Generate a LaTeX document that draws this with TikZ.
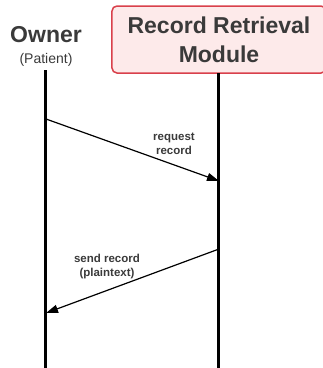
\documentclass[tikz,border=0pt]{standalone}
\usepackage{fontspec}
\setmainfont{Liberation Sans}
\usetikzlibrary{arrows.meta}
\definecolor{textgray}{HTML}{3A3A3A}
\definecolor{boxred}{HTML}{D9404B}
\definecolor{boxfill}{HTML}{FDEAEA}
\begin{document}
\begin{tikzpicture}[
            x=1pt, y=-1pt,
            ator/.style={text=textgray, font=\bfseries\fontsize{23}{29}\selectfont, align=center},
            subator/.style={text=textgray, font=\fontsize{14}{17}\selectfont},
            modulo/.style={shape=rectangle, rounded corners=5pt, draw=boxred, fill=boxfill, line width=1.5pt,
                minimum width=214pt, minimum height=67pt, text=textgray, align=center,
                font=\bfseries\fontsize{23}{29}\selectfont},
            vida/.style={line width=3pt},
            msg/.style={line width=1.2pt, -{Triangle[length=12pt,width=8pt]}},
            rotulo/.style={text=textgray, font=\bfseries\fontsize{11.5}{14}\selectfont, align=center},
        ]
        \useasboundingbox (0,0) rectangle (323,368);
        \node[ator] (owner) at (46, 35) {Owner};
        \node[subator] (patient) at (46, 60) {(Patient)};
        \node[modulo] (rrm) at (219, 39.5) {Record Retrieval\\Module};

        \coordinate (o0) at (46, 70);
        \coordinate (o1) at (46, 368);
        \coordinate (m0) at (219, 73);
        \coordinate (m1) at (219, 368);
        \coordinate (req) at (46, 119);
        \coordinate (reqfim) at (219, 181);
        \coordinate (env) at (219, 249);
        \coordinate (envfim) at (46, 313);

        \draw[vida] (o0) -- (o1);
        \draw[vida] (m0) -- (m1);
        \draw[msg] (req) -- (reqfim);
        \draw[msg] (env) -- (envfim);

        \node[rotulo] (lreq) at (174, 144) {request\\record};
        \node[rotulo] (lenv) at (107, 267) {send record\\(plaintext)};

    \end{tikzpicture}
\end{document}
